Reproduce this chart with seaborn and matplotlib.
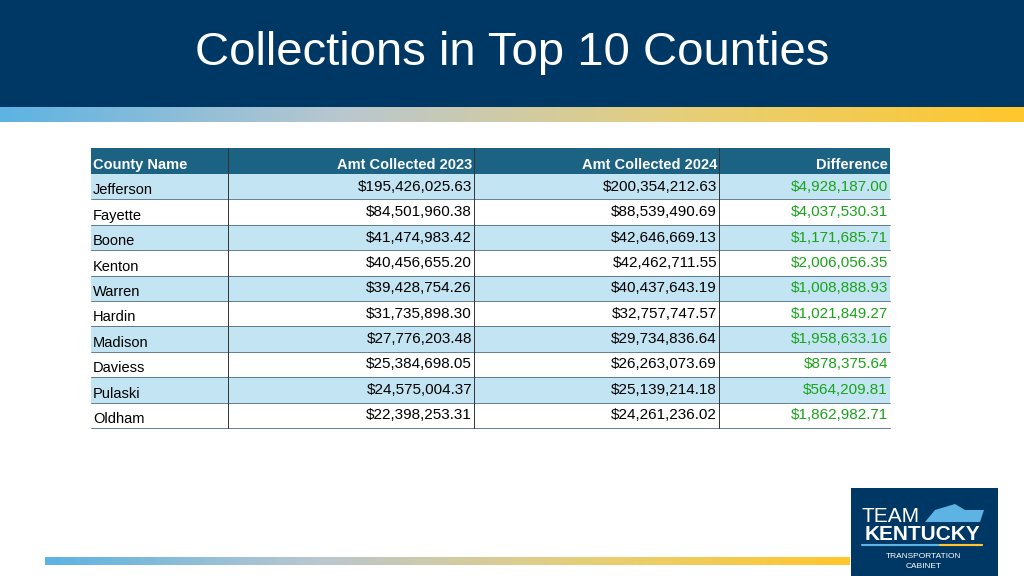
import matplotlib
matplotlib.use("Agg")
import matplotlib.pyplot as plt
import seaborn as sns
import numpy as np
from matplotlib.colors import LinearSegmentedColormap

sns.set_theme(style="white")
plt.rcParams["font.family"] = "Liberation Sans"

title = "Collections in Top 10 Counties"
headers = ["County Name", "Amt Collected 2023", "Amt Collected 2024", "Difference"]
counties = ["Jefferson", "Fayette", "Boone", "Kenton", "Warren", "Hardin", "Madison", "Daviess", "Pulaski", "Oldham"]
amt2023 = [195426025.63, 84501960.38, 41474983.42, 40456655.20, 39428754.26, 31735898.30, 27776203.48, 25384698.05, 24575004.37, 22398253.31]
amt2024 = [200354212.63, 88539490.69, 42646669.13, 42462711.55, 40437643.19, 32757747.57, 29734836.64, 26263073.69, 25139214.18, 24261236.02]
diff = [4928187.00, 4037530.31, 1171685.71, 2006056.35, 1008888.93, 1021849.27, 1958633.16, 878375.64, 564209.81, 1862982.71]

W, H = 1024, 576
fig = plt.figure(figsize=(10.24, 5.76), dpi=100)
ax = fig.add_axes([0, 0, 1, 1])
ax.set_xlim(0, W); ax.set_ylim(H, 0); ax.axis("off")

navy = "#003865"
ax.add_patch(plt.Rectangle((0, 0), W, 107, color=navy, lw=0))
grad = LinearSegmentedColormap.from_list("g", ["#5db3e3", "#b9c7cf", "#e6cf7a", "#ffc72c"])
g = np.linspace(0, 1, 256)[None, :]
ax.imshow(g, cmap=grad, extent=(0, W, 122, 107), aspect="auto")
ax.imshow(g[:, :200], cmap=grad, extent=(45, 850, 565, 557), aspect="auto")
ax.set_xlim(0, W); ax.set_ylim(H, 0)
ax.text(512, 53, title, color="white", fontsize=34, ha="center", va="center")

# table
cols = [91, 228, 474, 719, 890]
top, hh, rh = 148, 26, 25.4
head_c = "#1b6283"
ax.add_patch(plt.Rectangle((cols[0], top), cols[-1]-cols[0], hh, color=head_c, lw=0))
for i, h in enumerate(headers):
    if i == 0:
        ax.text(cols[0]+2, top+hh-2, h, color="white", fontsize=10.5, weight="bold", ha="left", va="bottom")
    else:
        ax.text(cols[i+1]-2, top+hh-2, h, color="white", fontsize=10.5, weight="bold", ha="right", va="bottom")
fmt = lambda v: "${:,.2f}".format(v)
for r in range(len(counties)):
    y0 = top + hh + r*rh
    fc = "#c3e4f3" if r % 2 == 0 else "white"
    ax.add_patch(plt.Rectangle((cols[0], y0), cols[-1]-cols[0], rh, color=fc, lw=0))
    ax.plot([cols[0], cols[-1]], [y0+rh, y0+rh], color="#4a6a80", lw=0.6)
    ax.text(cols[0]+2, y0+rh-2, counties[r], fontsize=10.5, color="black", ha="left", va="bottom")
    for ci, vals in enumerate([amt2023, amt2024, diff]):
        col = "#1aa31a" if ci == 2 else "black"
        ax.text(cols[ci+2]-2, y0+rh/2, fmt(vals[r]), fontsize=11, color=col, ha="right", va="center")
for x in cols[1:4]:
    ax.plot([x, x], [top, top+hh+10*rh], color="#333333", lw=0.7)

# logo
ax.add_patch(plt.Rectangle((851, 488), 147, 88, color=navy, lw=0))
ax.text(862, 516, "TEAM", color="white", fontsize=15, fontweight="light", ha="left", va="center")
ax.add_patch(plt.Polygon([[925, 522], [935, 510], [955, 504], [965, 510], [984, 510], [980, 522]], color="#5db3e3", lw=0))
ax.text(923, 535, "KENTUCKY", color="white", fontsize=15, weight="bold", ha="center", va="center")
ax.plot([862, 982], [545, 545], color="#5db3e3", lw=1.5)
ax.plot([940, 982], [545, 545], color="#ffc72c", lw=1.5)
ax.text(924, 556, "TRANSPORTATION", color="white", fontsize=6, ha="center", va="center")
ax.text(924, 566, "CABINET", color="white", fontsize=6, ha="center", va="center")

fig.savefig("out.png", dpi=100)
